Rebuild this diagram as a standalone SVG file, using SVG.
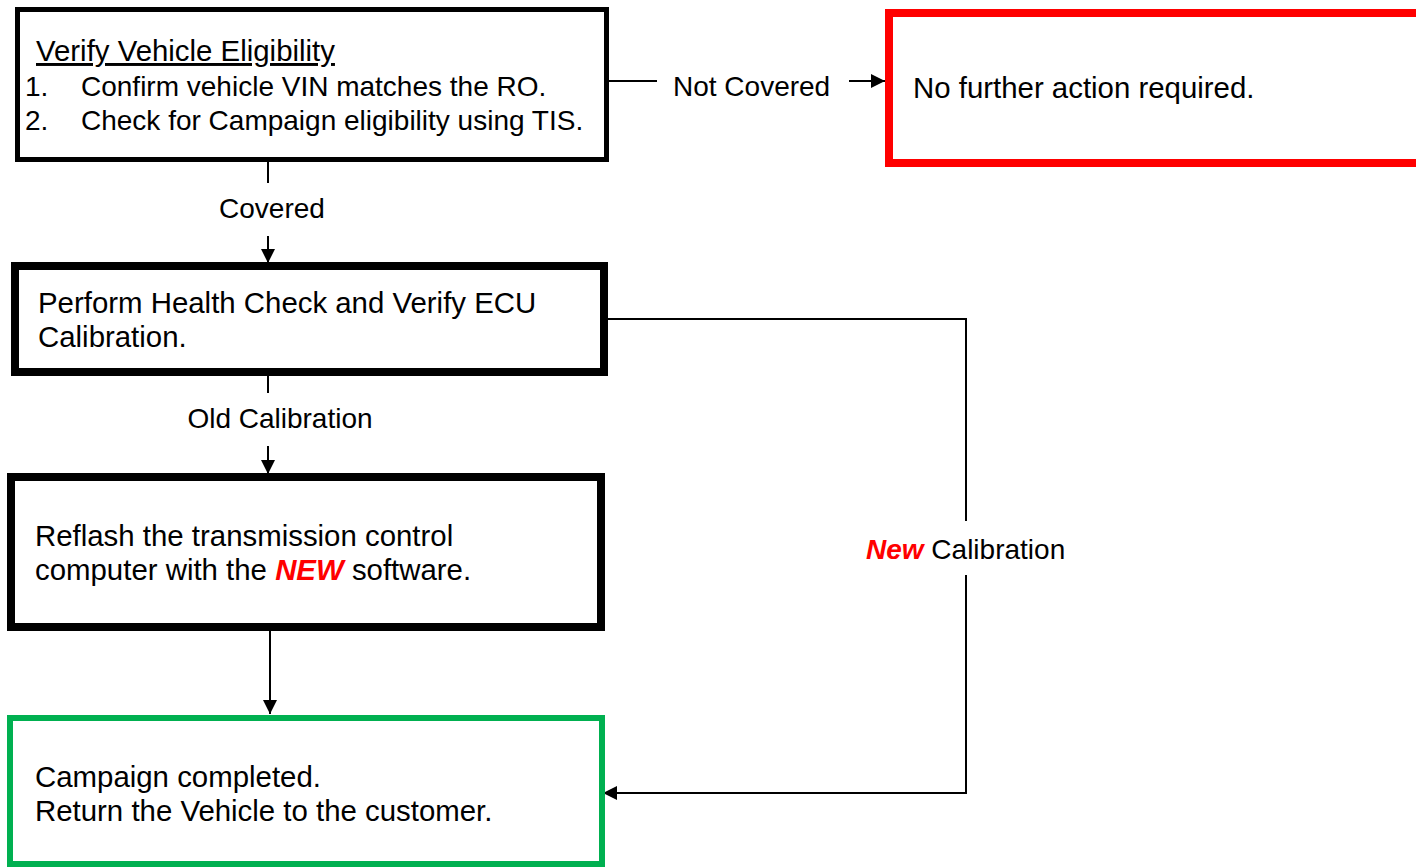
<svg xmlns="http://www.w3.org/2000/svg" width="1416" height="867" viewBox="0 0 1416 867">
<style>
text{font-family:"Liberation Sans",Arial,sans-serif;fill:#000}
.t{font-size:29.4px}
.li{font-size:28px}
.l{font-size:28px}
.box{fill:#fff}
.c{fill:none;stroke:#000;stroke-width:2}
.red{fill:#ff0000;font-weight:bold;font-style:italic}
</style>
<defs>
<marker id="ah" viewBox="0 0 14 14" refX="14" refY="7" markerWidth="14" markerHeight="14" markerUnits="userSpaceOnUse" orient="auto">
<path d="M0,0 L14,7 L0,14 Z" fill="#000"/>
</marker>
</defs>
<rect width="1416" height="867" fill="#fff"/>
<g id="connectors">
<line class="c" x1="609" y1="81" x2="657" y2="81"/>
<line class="c" x1="849" y1="81" x2="885" y2="81" marker-end="url(#ah)"/>
<text class="l" x="673" y="96">Not Covered</text>
<line class="c" x1="268" y1="162" x2="268" y2="183"/>
<line class="c" x1="268" y1="236" x2="268" y2="263" marker-end="url(#ah)"/>
<text class="l" x="272" y="218" text-anchor="middle">Covered</text>
<line class="c" x1="268" y1="376" x2="268" y2="393"/>
<line class="c" x1="268" y1="446" x2="268" y2="474" marker-end="url(#ah)"/>
<text class="l" x="280" y="428" text-anchor="middle">Old Calibration</text>
<line class="c" x1="270" y1="631" x2="270" y2="714" marker-end="url(#ah)"/>
<polyline class="c" points="608,319 966,319 966,521"/>
<polyline class="c" points="966,575 966,793 603,793" marker-end="url(#ah)"/>
<text class="l" x="866" y="559"><tspan class="red">New</tspan> Calibration</text>
</g>
<g id="verify">
<rect class="box" x="17.5" y="9.5" width="589" height="150" stroke="#000" stroke-width="5"/>
<text class="t" x="36" y="61" text-decoration="underline">Verify Vehicle Eligibility</text>
<text class="li" x="25" y="96">1.</text>
<text class="li" x="81" y="96">Confirm vehicle VIN matches the RO.</text>
<text class="li" x="25" y="130">2.</text>
<text class="li" x="81" y="130">Check for Campaign eligibility using TIS.</text>
</g>
<g id="no-action">
<rect class="box" x="889" y="13" width="540" height="150" stroke="#ff0000" stroke-width="8"/>
<text class="t" x="913" y="98">No further action required.</text>
</g>
<g id="health-check">
<rect class="box" x="15" y="266" width="589" height="106" stroke="#000" stroke-width="8"/>
<text class="t" x="38" y="313">Perform Health Check and Verify ECU</text>
<text class="t" x="38" y="347">Calibration.</text>
</g>
<g id="reflash">
<rect class="box" x="11" y="477" width="590" height="150" stroke="#000" stroke-width="8"/>
<text class="t" x="35" y="546">Reflash the transmission control</text>
<text class="t" x="35" y="580">computer with the <tspan class="red">NEW</tspan> software.</text>
</g>
<g id="complete">
<rect class="box" x="10" y="718" width="592" height="146" stroke="#00b050" stroke-width="6"/>
<text class="t" x="35" y="787">Campaign completed.</text>
<text class="t" x="35" y="821">Return the Vehicle to the customer.</text>
</g>
</svg>
